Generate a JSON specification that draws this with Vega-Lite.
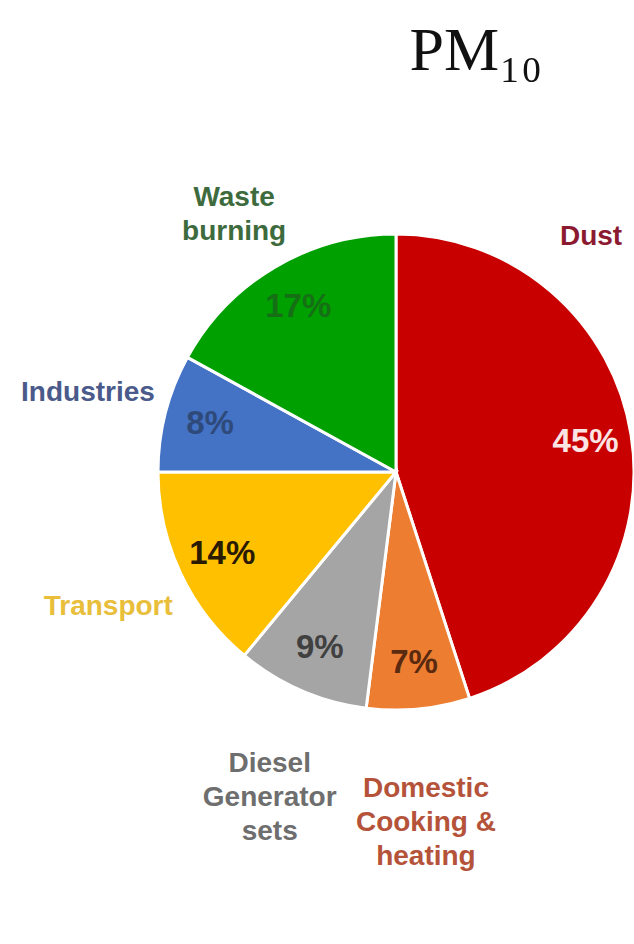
{
  "$schema": "https://vega.github.io/schema/vega-lite/v6.json",
  "autosize": "none",
  "width": 476,
  "height": 944,
  "padding": {"left": 158, "right": 0, "top": 0, "bottom": 0},
  "background": "white",
  "view": {"stroke": null},
  "title": {
    "text": "PM₁₀",
    "font": "Liberation Serif",
    "fontSize": 62,
    "fontWeight": "normal",
    "color": "#111111",
    "anchor": "middle",
    "dx": 80,
    "offset": -132,
    "baseline": "alphabetic"
  },
  "data": {
    "values": [
      {"category": "Dust", "name": "Dust", "value": 45, "label": "45%", "order": 1},
      {"category": "Domestic", "name": "Domestic\nCooking &\nheating", "value": 7, "label": "7%", "order": 2},
      {"category": "Diesel", "name": "Diesel\nGenerator\nsets", "value": 9, "label": "9%", "order": 3},
      {"category": "Transport", "name": "Transport", "value": 14, "label": "14%", "order": 4},
      {"category": "Industries", "name": "Industries", "value": 8, "label": "8%", "order": 5},
      {"category": "Waste", "name": "Waste\nburning", "value": 17, "label": "17%", "order": 6}
    ]
  },
  "encoding": {
    "theta": {"field": "value", "type": "quantitative", "stack": true},
    "order": {"field": "order", "type": "quantitative"}
  },
  "layer": [
    {
      "mark": {"type": "arc", "outerRadius": 238, "stroke": "white", "strokeWidth": 3},
      "encoding": {
        "color": {
          "field": "category", "type": "nominal", "legend": null,
          "scale": {
            "domain": ["Dust", "Domestic", "Diesel", "Transport", "Industries", "Waste"],
            "range": ["#C80000", "#ED7D31", "#A5A5A5", "#FFC000", "#4472C4", "#00A000"]
          }
        }
      }
    },
    {
      "mark": {"type": "text", "radius": 192, "font": "Liberation Sans", "fontWeight": "bold", "fontSize": 33},
      "encoding": {
        "text": {"field": "label"},
        "color": {
          "field": "category", "type": "nominal", "legend": null,
          "scale": {
            "domain": ["Dust", "Domestic", "Diesel", "Transport", "Industries", "Waste"],
            "range": ["#FBE4E4", "#5A2A10", "#404040", "#2A1A00", "#2E4A7A", "#157015"]
          }
        }
      }
    },
    {
      "mark": {"type": "text", "radius": 318, "font": "Liberation Sans", "fontWeight": "bold", "fontSize": 28, "lineBreak": "\n", "lineHeight": 34},
      "encoding": {
        "text": {"condition": {"test": "datum.category === 'Dust'", "value": ""}, "field": "name"},
        "color": {
          "field": "category", "type": "nominal", "legend": null,
          "scale": {
            "domain": ["Dust", "Domestic", "Diesel", "Transport", "Industries", "Waste"],
            "range": ["#8B1A30", "#B5533A", "#6E6E6E", "#E8BE3A", "#4A5A8A", "#3D6B3D"]
          }
        }
      }
    },
    {
      "mark": {"type": "text", "radius": 305, "thetaOffset": -0.72, "font": "Liberation Sans", "fontWeight": "bold", "fontSize": 28},
      "encoding": {
        "text": {"condition": {"test": "datum.category !== 'Dust'", "value": ""}, "field": "name"},
        "color": {
          "field": "category", "type": "nominal", "legend": null,
          "scale": {
            "domain": ["Dust", "Domestic", "Diesel", "Transport", "Industries", "Waste"],
            "range": ["#8B1A30", "#B5533A", "#6E6E6E", "#E8BE3A", "#4A5A8A", "#3D6B3D"]
          }
        }
      }
    }
  ],
  "resolve": {"scale": {"color": "independent"}}
}
